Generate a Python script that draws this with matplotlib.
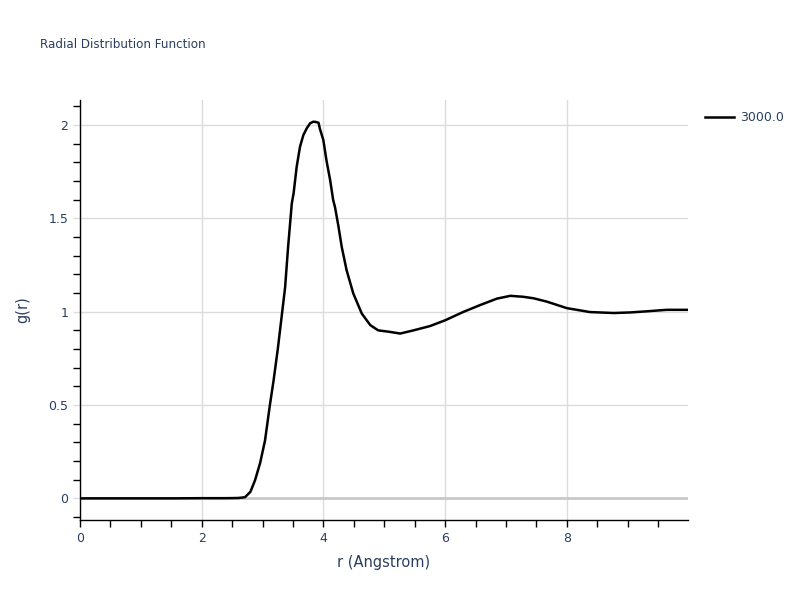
import matplotlib
matplotlib.use("Agg")
import matplotlib.pyplot as plt
from matplotlib.ticker import MultipleLocator

# Data
r = [0.0, 0.5, 1.0, 1.5, 2.0, 2.4, 2.6, 2.71, 2.80, 2.876, 2.96, 3.04, 3.12, 3.18,
     3.25, 3.33, 3.37, 3.42, 3.48, 3.51, 3.56, 3.615, 3.67, 3.725, 3.78, 3.835, 3.88, 3.92,
     3.94, 3.998, 4.05, 4.11, 4.16, 4.19, 4.245, 4.30, 4.38, 4.49, 4.63, 4.77, 4.90,
     5.09, 5.26, 5.48, 5.75, 6.0, 6.30, 6.57, 6.85, 7.07, 7.28, 7.45, 7.67, 8.0,
     8.38, 8.77, 9.04, 9.31, 9.64, 9.97, 9.99]
g = [0.0, 0.0, 0.0, 0.0, 0.001, 0.001, 0.002, 0.006, 0.035, 0.097, 0.19, 0.31, 0.50, 0.63,
     0.80, 1.02, 1.13, 1.35, 1.58, 1.635, 1.776, 1.884, 1.946, 1.982, 2.009, 2.018, 2.016, 2.012,
     1.982, 1.92, 1.81, 1.705, 1.598, 1.56, 1.46, 1.348, 1.223, 1.098, 0.99, 0.928, 0.90,
     0.892, 0.883, 0.90, 0.923, 0.954, 0.999, 1.035, 1.07, 1.085, 1.08, 1.072, 1.054, 1.019,
     0.998, 0.993, 0.996, 1.002, 1.01, 1.01, 1.01]
series_name = "3000.0"

title_txt = "Radial Distribution Function"
xlabel_txt = "r (Angstrom)"
ylabel_txt = "g(r)"

txt_color = "#2a3f5f"
grid_color = "#dcdcdc"

fig = plt.figure(figsize=(8, 6), dpi=100)
ax = fig.add_axes([0.1, 0.1333, 0.76, 0.7])

ax.plot(r, g, color="black", lw=1.8, label=series_name, zorder=3)

ax.set_xlim(0, 9.99)
ax.set_ylim(-0.116, 2.134)

ax.xaxis.set_major_locator(MultipleLocator(2))
ax.xaxis.set_minor_locator(MultipleLocator(0.5))
ax.yaxis.set_major_locator(MultipleLocator(0.5))
ax.yaxis.set_minor_locator(MultipleLocator(0.1))

ax.grid(True, which="major", color=grid_color, lw=1)
ax.axhline(0, color="#c8c8c8", lw=2, zorder=1)
ax.set_axisbelow(True)

for s in ["top", "right"]:
    ax.spines[s].set_visible(False)
for s in ["left", "bottom"]:
    ax.spines[s].set_color("black")
    ax.spines[s].set_linewidth(1)

ax.tick_params(axis="both", which="major", labelsize=9, labelcolor=txt_color,
               length=5, width=1, color="black")
ax.tick_params(axis="both", which="minor", length=5, width=1, color="black")
ax.tick_params(axis="y", which="major", color=grid_color)
ax.set_yticks([0, 0.5, 1, 1.5, 2])
ax.set_yticklabels(["0", "0.5", "1", "1.5", "2"])
ax.set_xticks([0, 2, 4, 6, 8])
ax.set_xticklabels(["0", "2", "4", "6", "8"])

ax.set_xlabel(xlabel_txt, fontsize=10.5, color=txt_color, labelpad=7)
ax.set_ylabel(ylabel_txt, fontsize=10.5, color=txt_color, labelpad=13)

fig.text(40 / 800, 1 - 45 / 600, title_txt, fontsize=8.6, color=txt_color,
         ha="left", va="center")

leg = ax.legend(loc="upper left", bbox_to_anchor=(1.01, 1.0), frameon=False,
                fontsize=9, handlelength=2.3, handletextpad=0.5, borderaxespad=0.5)
for t in leg.get_texts():
    t.set_color(txt_color)

fig.savefig("out.png", dpi=100)
